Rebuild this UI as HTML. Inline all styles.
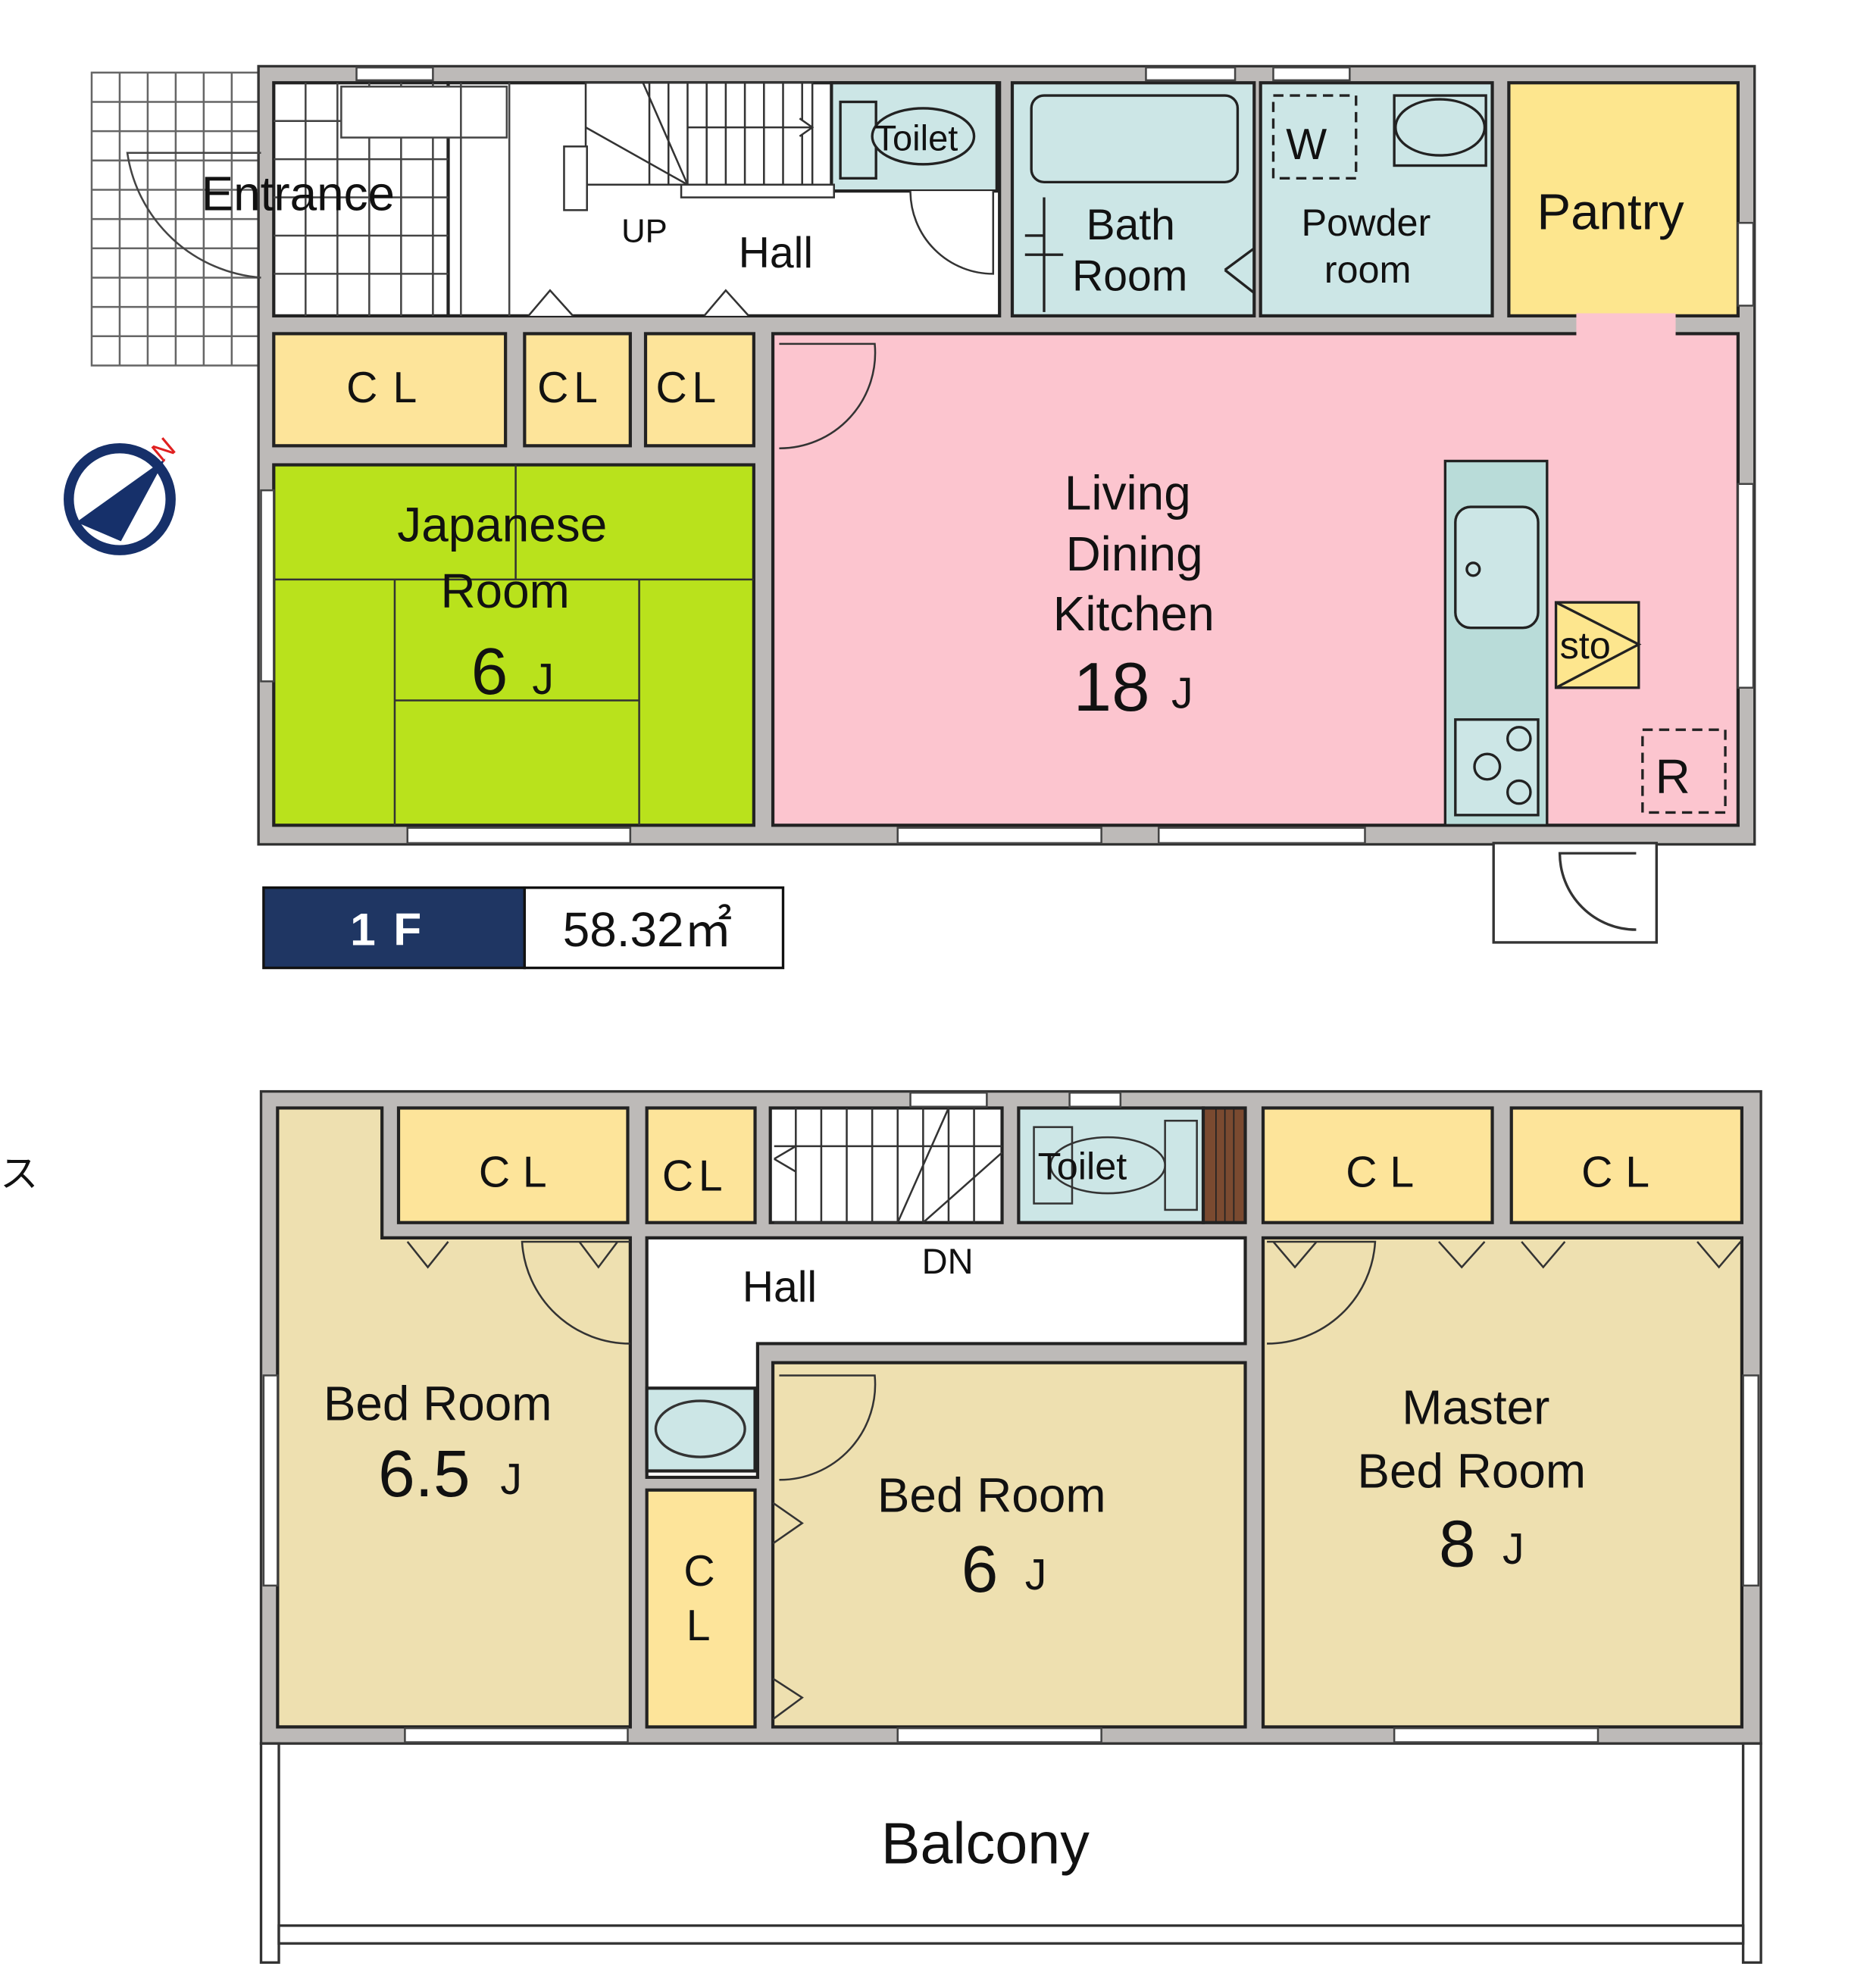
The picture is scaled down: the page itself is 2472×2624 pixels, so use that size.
<!DOCTYPE html>
<html><head><meta charset="utf-8"><style>
html,body{margin:0;padding:0;background:#fff;}
svg{display:block;}
text{font-family:"Liberation Sans","Noto Sans CJK JP",sans-serif;fill:#111;}
</style></head><body>
<svg width="2472" height="2624" viewBox="0 0 1471 1561" preserveAspectRatio="none" xmlns="http://www.w3.org/2000/svg">
<rect width="1471" height="1561" fill="#fff"/>
<!-- ===== 1F ===== -->
<!-- entrance tiles outside -->
<g stroke="#666" stroke-width="1.5" fill="#fff">
<rect x="72" y="57" width="133" height="230"/>
<path d="M72 80H205M72 103H205M72 126H205M72 149H205M72 172H205M72 195H205M72 218H205M72 241H205M72 264H205M94 57V287M116 57V287M138 57V287M160 57V287M182 57V287"/>
</g>
<!-- walls -->
<rect x="203" y="52" width="1175" height="611" fill="#bdbab8" stroke="#333" stroke-width="2"/>
<!-- rooms -->
<g stroke="#222" stroke-width="2.5">
<rect x="215" y="65" width="137" height="183" fill="#fff"/>
<rect x="352" y="65" width="433" height="183" fill="#fff"/>
<rect x="653" y="65" width="130" height="85" fill="#cce6e6"/>
<rect x="795" y="65" width="190" height="183" fill="#cce6e6"/>
<rect x="990" y="65" width="182" height="183" fill="#cce6e6"/>
<rect x="1185" y="65" width="180" height="183" fill="#fde68e"/>
<rect x="215" y="262" width="182" height="88" fill="#fde49a"/>
<rect x="412" y="262" width="83" height="88" fill="#fde49a"/>
<rect x="507" y="262" width="85" height="88" fill="#fde49a"/>
<rect x="215" y="365" width="377" height="283" fill="#b9e21c"/>
<rect x="607" y="262" width="758" height="386" fill="#fcc5cf"/>
</g>
<rect x="1238" y="246" width="78" height="20" fill="#fcc5cf"/>
<!-- entrance tile grid inside -->
<g stroke="#444" stroke-width="1.5" fill="none">
<path d="M215 95H352M215 125H352M215 155H352M215 185H352M215 215H352M240 65V248M265 65V248M290 65V248M315 65V248M340 65V248"/>
<rect x="268" y="68" width="130" height="40" fill="#fff"/>
<path d="M205 218 A115 115 0 0 1 100 120 L205 120"/>
<path d="M362 65V248M400 65V248"/>
</g>
<!-- stairs -->
<g stroke="#333" stroke-width="1.5" fill="#fff">
<rect x="460" y="65" width="178" height="80"/>
<path d="M510 65V145M525 65V145M540 65V145M555 65V145M570 65V145M585 65V145M600 65V145M615 65V145M630 65V145"/>
<path d="M460 100L540 145M505 65L540 145M540 100H638M628 93L638 100L628 107"/>
<rect x="443" y="115" width="18" height="50"/>
<rect x="535" y="145" width="120" height="10"/>
<path d="M715 150 A65 65 0 0 0 780 215 L780 150"/>
<path d="M415 248 L432 228 L450 248M553 248 L570 228 L588 248"/>
</g>
<!-- toilet, bath, powder -->
<g stroke="#222" stroke-width="2" fill="#cce6e6">
<rect x="660" y="80" width="28" height="60"/><ellipse cx="725" cy="107" rx="40" ry="22"/>
<rect x="810" y="75" width="162" height="68" rx="10"/>
<path d="M820 155V245M805 185H820M805 200H835M962 212L985 195M962 212L985 230"/>
<path d="M1000 75H1065V140H1000Z" fill="none" stroke-dasharray="8,5"/>
<rect x="1095" y="75" width="72" height="55"/><ellipse cx="1131" cy="100" rx="35" ry="22"/>
</g>
<!-- Japanese room tatami -->
<g stroke="#333" stroke-width="1.5" fill="none">
<path d="M215 455H592M405 365V455M310 455V648M502 455V648M310 550H502"/>
</g>
<!-- LDK door -->
<g stroke="#333" stroke-width="1.5" fill="none">
<path d="M612 352 A75 75 0 0 0 687 270 L612 270"/>
</g>
<!-- kitchen -->
<g stroke="#222" stroke-width="2">
<rect x="1135" y="362" width="80" height="286" fill="#b9dcd9"/>
<rect x="1143" y="398" width="65" height="95" rx="12" fill="#cce6e6"/>
<circle cx="1157" cy="447" r="5" fill="none"/>
<rect x="1143" y="565" width="65" height="75" fill="#cce6e6"/>
<circle cx="1168" cy="602" r="10" fill="none"/><circle cx="1193" cy="580" r="9" fill="none"/><circle cx="1193" cy="622" r="9" fill="none"/>
<rect x="1222" y="473" width="65" height="67" fill="#fde68e"/>
<path d="M1222 473L1287 506L1222 540" fill="none"/>
<rect x="1290" y="573" width="65" height="65" fill="none" stroke-dasharray="8,5"/>
</g>
<!-- outdoor step -->
<g stroke="#333" stroke-width="2" fill="#fff">
<rect x="1173" y="662" width="128" height="78"/>
<path d="M1285 730 A60 60 0 0 1 1225 670 L1285 670"/>
</g>
<!-- windows 1F -->
<g fill="#fff" stroke="#444" stroke-width="1.5">
<rect x="320" y="650" width="175" height="12"/><rect x="705" y="650" width="160" height="12"/><rect x="910" y="650" width="162" height="12"/>
<rect x="205" y="385" width="10" height="150"/><rect x="1365" y="380" width="12" height="160"/>
<rect x="280" y="53" width="60" height="10"/><rect x="900" y="53" width="70" height="10"/><rect x="1000" y="53" width="60" height="10"/>
<rect x="1365" y="175" width="12" height="65"/>
</g>
<!-- compass -->
<circle cx="94" cy="392" r="40" fill="#fff" stroke="#16306a" stroke-width="8"/>
<path d="M60 410 L130 360 L95 425 Z" fill="#16306a"/>
<text x="122" y="360" font-size="22" fill="#d22" style="fill:#e02020" transform="rotate(-40 130 355)">N</text>
<!-- labels 1F -->
<text x="158" y="165" font-size="38">Entrance</text>
<text x="687" y="118" font-size="28">Toilet</text>
<text x="488" y="190" font-size="26">UP</text>
<text x="580" y="210" font-size="34">Hall</text>
<text x="853" y="188" font-size="34">Bath</text>
<text x="842" y="228" font-size="34">Room</text>
<text x="1010" y="125" font-size="34">W</text>
<text x="1022" y="185" font-size="30">Powder</text>
<text x="1040" y="222" font-size="30">room</text>
<text x="1207" y="180" font-size="40">Pantry</text>
<text x="272" y="316" font-size="34" letter-spacing="12">CL</text>
<text x="422" y="316" font-size="34" letter-spacing="4">CL</text>
<text x="515" y="316" font-size="34" letter-spacing="4">CL</text>
<text x="312" y="425" font-size="38">Japanese</text>
<text x="346" y="477" font-size="38">Room</text>
<text x="370" y="545" font-size="52">6</text><text x="418" y="545" font-size="34">J</text>
<text x="836" y="400" font-size="38">Living</text>
<text x="837" y="448" font-size="38">Dining</text>
<text x="827" y="495" font-size="38">Kitchen</text>
<text x="843" y="558" font-size="54">18</text><text x="920" y="556" font-size="34">J</text>
<text x="1225" y="517" font-size="30">sto</text>
<text x="1300" y="623" font-size="38">R</text>
<rect x="207" y="697" width="205" height="63" fill="#1f3663" stroke="#111" stroke-width="2"/>
<rect x="412" y="697" width="203" height="63" fill="#fff" stroke="#111" stroke-width="2"/>
<text x="275" y="742" font-size="36" style="fill:#fff;font-weight:bold" letter-spacing="14">1F</text>
<text x="442" y="743" font-size="38">58.32㎡</text>
<text x="0" y="932" font-size="30">ス</text>

<!-- ===== 2F ===== -->
<rect x="205" y="857" width="1178" height="512" fill="#bdbab8" stroke="#333" stroke-width="2"/>
<g stroke="#222" stroke-width="2.5">
<path d="M218 870H300V972H495V1356H218Z" fill="#eee0b0"/>
<rect x="313" y="870" width="180" height="90" fill="#fde49a"/>
<rect x="508" y="870" width="85" height="90" fill="#fde49a"/>
<rect x="605" y="870" width="182" height="90" fill="#fff"/>
<rect x="800" y="870" width="145" height="90" fill="#cce6e6"/>
<rect x="945" y="870" width="33" height="90" fill="#7a4a30"/>
<rect x="992" y="870" width="180" height="90" fill="#fde49a"/>
<rect x="1187" y="870" width="181" height="90" fill="#fde49a"/>
<path d="M508 972H978V1055H595V1160H508Z" fill="#fff"/>
<rect x="508" y="1090" width="85" height="65" fill="#cce6e6"/>
<rect x="508" y="1170" width="85" height="186" fill="#fde49a"/>
<rect x="607" y="1070" width="371" height="286" fill="#eee0b0"/>
<rect x="992" y="972" width="376" height="384" fill="#eee0b0"/>
</g>
<g stroke="#222" stroke-width="1" fill="none">
<path d="M955 870V960M962 870V960M969 870V960"/>
</g>
<g stroke="#333" stroke-width="1.5" fill="none">
<path d="M625 870V960M645 870V960M665 870V960M685 870V960M705 870V960M725 870V960M745 870V960M765 870V960M608 900H787M705 960L745 870M725 960L787 905M608 910L625 900M608 910L625 920"/>
<path d="M608 960H705"/>
<ellipse cx="550" cy="1122" rx="35" ry="22" fill="#cce6e6" stroke-width="2"/>
<rect x="812" y="885" width="30" height="60"/><rect x="915" y="880" width="25" height="70" fill="#cce6e6"/>
<ellipse cx="870" cy="915" rx="45" ry="22"/>
<path d="M495 1055 A85 85 0 0 1 410 975 L495 975"/>
<path d="M612 1162 A75 75 0 0 0 687 1080 L612 1080"/>
<path d="M995 1055 A85 85 0 0 0 1080 975 L995 975"/>
<path d="M320 975L336 995L352 975M455 975L470 995L485 975M1000 975L1017 995L1034 975M1130 975L1148 995L1166 975M1195 975L1212 995L1229 975M1333 975L1350 995L1367 975M607 1180L630 1196L607 1212M607 1318L630 1333L607 1350"/>
</g>
<!-- windows 2F -->
<g fill="#fff" stroke="#444" stroke-width="1.5">
<rect x="318" y="1357" width="175" height="11"/><rect x="705" y="1357" width="160" height="11"/><rect x="1095" y="1357" width="160" height="11"/>
<rect x="207" y="1080" width="11" height="165"/><rect x="1369" y="1080" width="12" height="165"/>
<rect x="715" y="858" width="60" height="11"/><rect x="840" y="858" width="40" height="11"/>
</g>
<!-- balcony -->
<g stroke="#333" stroke-width="2" fill="#fff">
<rect x="205" y="1369" width="14" height="172"/><rect x="1369" y="1369" width="14" height="172"/>
<rect x="219" y="1512" width="1150" height="14"/>
</g>
<!-- labels 2F -->
<text x="376" y="932" font-size="34" letter-spacing="10">CL</text>
<text x="520" y="935" font-size="34" letter-spacing="4">CL</text>
<text x="815" y="926" font-size="30">Toilet</text>
<text x="1057" y="932" font-size="34" letter-spacing="10">CL</text>
<text x="1242" y="932" font-size="34" letter-spacing="10">CL</text>
<text x="583" y="1022" font-size="34">Hall</text>
<text x="724" y="1000" font-size="28">DN</text>
<text x="254" y="1115" font-size="38">Bed Room</text>
<text x="297" y="1175" font-size="52">6.5</text><text x="393" y="1173" font-size="34">J</text>
<text x="537" y="1245" font-size="34">C</text>
<text x="539" y="1288" font-size="34">L</text>
<text x="689" y="1187" font-size="38">Bed Room</text>
<text x="755" y="1250" font-size="52">6</text><text x="805" y="1248" font-size="34">J</text>
<text x="1101" y="1118" font-size="38">Master</text>
<text x="1066" y="1168" font-size="38">Bed Room</text>
<text x="1130" y="1230" font-size="52">8</text><text x="1180" y="1228" font-size="34">J</text>
<text x="692" y="1463" font-size="46">Balcony</text>
</svg>
</body></html>
